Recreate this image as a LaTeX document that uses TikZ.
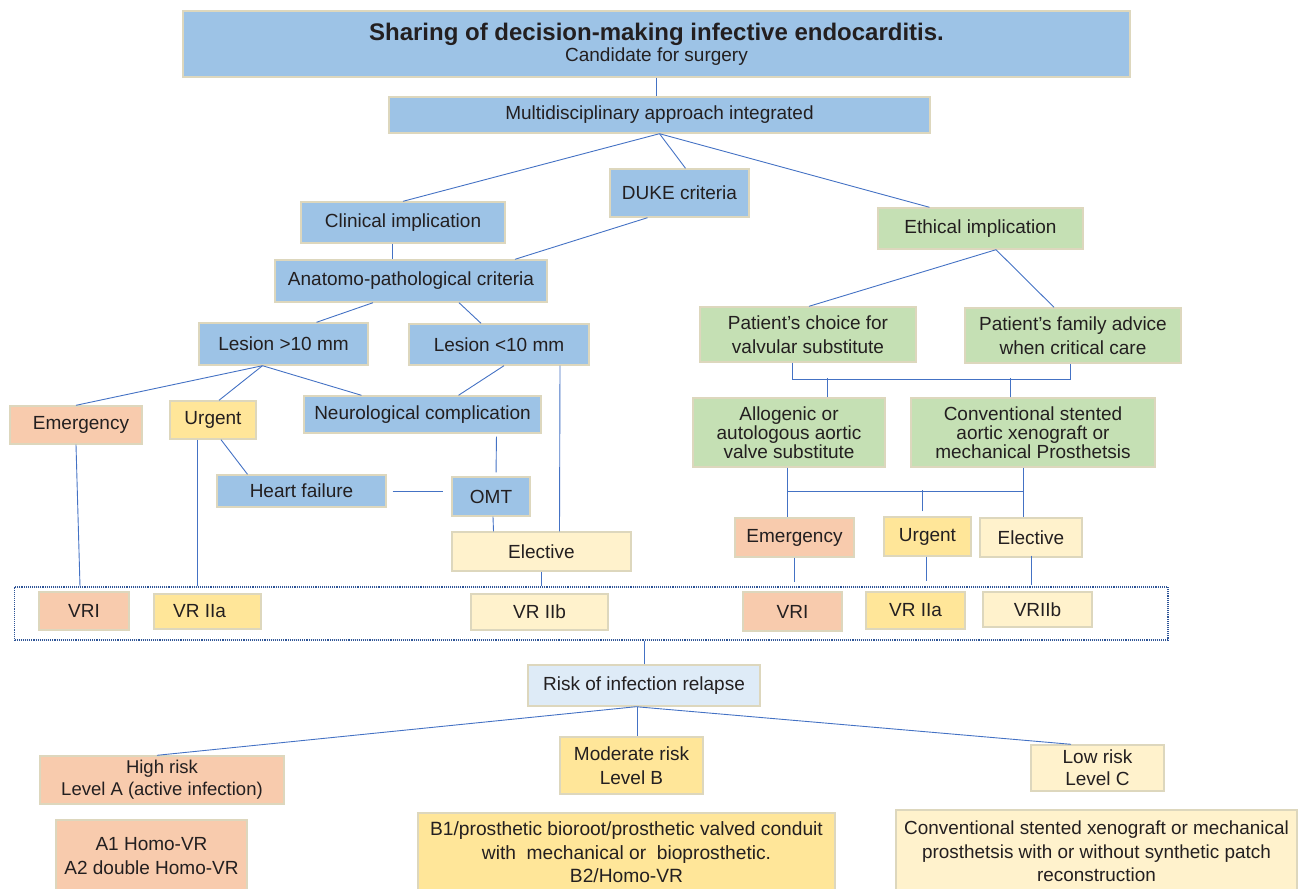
\documentclass[tikz,border=0pt]{standalone}
\usepackage{fontspec}
\setmainfont{Liberation Sans}
\definecolor{cblue}{HTML}{9DC3E6}
\definecolor{cgreen}{HTML}{C5E0B4}
\definecolor{csalmon}{HTML}{F8CBAD}
\definecolor{cyellow}{HTML}{FFE699}
\definecolor{clyellow}{HTML}{FFF2CC}
\definecolor{crisk}{HTML}{DEEBF7}
\definecolor{cborder}{HTML}{DDD7BD}
\definecolor{cline}{HTML}{4472C4}
\definecolor{cdot}{HTML}{2F5597}
\definecolor{ctext}{HTML}{231F20}
\begin{document}
\begin{tikzpicture}[x=1pt,y=-1pt,
  bx/.style={draw=cborder, line width=1.4pt, inner sep=0pt, align=center, text=ctext,
    font=\fontsize{19}{22}\selectfont},
  ln/.style={draw=cline, line width=0.9pt}]
\useasboundingbox (0,0) rectangle (1299,889);
% ---- nodes ----
\node[bx,fill=cblue,minimum width=947,minimum height=66] (title) at (656.5,44)
  {{\fontsize{24}{26}\selectfont\bfseries Sharing of decision-making infective endocarditis.}\\[-1pt]Candidate for surgery};
\node[bx,fill=cblue,minimum width=541,minimum height=36] (multi) at (659.5,115) {Multidisciplinary approach integrated};
\node[bx,fill=cblue,minimum width=204,minimum height=41] (clin) at (403,222.5) {Clinical implication};
\node[bx,fill=cblue,minimum width=139,minimum height=48] (duke) at (679.5,193) {DUKE criteria};
\node[bx,fill=cgreen,minimum width=205,minimum height=41] (eth) at (980.5,228.5) {Ethical implication};
\node[bx,fill=cblue,minimum width=272,minimum height=42] (anat) at (411,281) {Anatomo-pathological criteria};
\node[bx,fill=cblue,minimum width=169,minimum height=42] (les1) at (283.5,344) {Lesion >10 mm};
\node[bx,fill=cblue,minimum width=180,minimum height=41] (les2) at (499,344.5) {Lesion <10 mm};
\node[bx,fill=csalmon,minimum width=132,minimum height=38] (emer1) at (76,425) {\hspace*{10pt}Emergency};
\node[bx,fill=cyellow,minimum width=86,minimum height=38] (urg1) at (213,420) {Urgent};
\node[bx,fill=cblue,minimum width=237,minimum height=37] (neuro) at (422.5,414.5) {Neurological complication};
\node[bx,fill=cblue,minimum width=169,minimum height=32] (heart) at (301.5,491) {Heart failure};
\node[bx,fill=cblue,minimum width=78,minimum height=39] (omt) at (491,496.5) {OMT};
\node[bx,fill=clyellow,minimum width=179,minimum height=39] (elec1) at (541.5,551.5) {Elective};
\node[bx,fill=cgreen,minimum width=216,minimum height=55,font=\fontsize{19}{24}\selectfont] (choice) at (808,334.5) {Patient’s choice for\\valvular substitute};
\node[bx,fill=cgreen,minimum width=216,minimum height=55,font=\fontsize{19}{24}\selectfont] (family) at (1073,335.5) {Patient’s family advice\\when critical care};
\node[bx,fill=cgreen,minimum width=192,minimum height=69,font=\fontsize{19}{19}\selectfont] (allo) at (789,432.5) {Allogenic or\\autologous aortic\\valve substitute};
\node[bx,fill=cgreen,minimum width=244,minimum height=69,font=\fontsize{19}{19}\selectfont] (conv) at (1033,432.5) {Conventional stented\\aortic xenograft or\\mechanical Prosthetsis};
\node[bx,fill=csalmon,minimum width=119,minimum height=39] (emer2) at (794.5,537.5) {Emergency};
\node[bx,fill=cyellow,minimum width=87,minimum height=39] (urg2) at (927.5,536.5) {Urgent};
\node[bx,fill=clyellow,minimum width=102,minimum height=39] (elec2) at (1031,537.5) {Elective};
\node[draw=cdot, densely dotted, line width=1.1pt, inner sep=0pt, minimum width=1153.5, minimum height=53] (vrgroup) at (591.25,613.5) {};
\node[bx,fill=csalmon,minimum width=90,minimum height=38] (vri1) at (84,611) {VRI};
\node[bx,fill=cyellow,minimum width=107,minimum height=35] (vr2a1) at (207.5,611.5) {VR IIa\hspace*{16pt}};
\node[bx,fill=clyellow,minimum width=137,minimum height=36] (vr2b1) at (539.5,612) {VR IIb};
\node[bx,fill=csalmon,minimum width=99,minimum height=39] (vri2) at (792.5,611.5) {VRI};
\node[bx,fill=cyellow,minimum width=99,minimum height=37] (vr2a2) at (915.5,610.5) {VR IIa};
\node[bx,fill=clyellow,minimum width=109,minimum height=35] (vr2b2) at (1037.5,609.5) {VRIIb};
\node[bx,fill=crisk,minimum width=232,minimum height=41] (risk) at (644,685.5) {Risk of infection relapse};
\node[bx,fill=csalmon,minimum width=244,minimum height=48,font=\fontsize{18.5}{22}\selectfont] (high) at (162,780) {High risk\\Level A (active infection)};
\node[bx,fill=cyellow,minimum width=143,minimum height=57,font=\fontsize{19}{24}\selectfont] (mod) at (631.5,765.5) {Moderate risk\\Level B};
\node[bx,fill=clyellow,minimum width=133,minimum height=46] (low) at (1097.5,768) {Low risk\\Level C};
\node[bx,fill=csalmon,minimum width=191,minimum height=72,font=\fontsize{19}{24}\selectfont] (a1) at (151.5,856) {A1 Homo-VR\\A2 double Homo-VR};
\node[bx,fill=cyellow,minimum width=417,minimum height=79,font=\fontsize{19.2}{23.5}\selectfont] (b1) at (626.5,852.5) {B1/prosthetic bioroot/prosthetic valved conduit\\with~ mechanical or~ bioprosthetic.\\B2/Homo-VR};
\node[bx,fill=clyellow,minimum width=401,minimum height=83,font=\fontsize{18.9}{23.5}\selectfont] (conv3) at (1096.5,851.5) {Conventional stented xenograft or mechanical\\prosthetsis with or without synthetic patch\\reconstruction};
% ---- connectors ----
\draw[ln] (title.south) -- (title.south |- multi.north);
\draw[ln] (multi.south) -- (clin.north);
\draw[ln] (multi.south) -- ([xshift=6]duke.north);
\draw[ln] (multi.south) -- ([xshift=-51]eth.north);
\draw[ln] ([xshift=-32]duke.south) -- ([xshift=104]anat.north);
\draw[ln] ([xshift=-11]clin.south) -- ([xshift=-19]anat.north);
\draw[ln] ([xshift=-38]anat.south) -- ([xshift=33]les1.north);
\draw[ln] ([xshift=48]anat.south) -- ([xshift=-18]les2.north);
\draw[ln] ([xshift=-21]les1.south) -- (emer1.north);
\draw[ln] ([xshift=-21]les1.south) -- ([xshift=6]urg1.north);
\draw[ln] ([xshift=-21]les1.south) -- ([xshift=-61]neuro.north);
\draw[ln] ([xshift=5]les2.south) -- ([xshift=36]neuro.north);
\draw[ln] ([xshift=61]les2.south) -- ([xshift=18]elec1.north);
\draw[ln, shorten <=3pt, shorten >=4pt] ([xshift=74]neuro.south) -- ([xshift=5]omt.north);
\draw[ln, shorten <=6pt, shorten >=8pt] (heart.east) -- (omt.west |- heart.east);
\draw[ln] ([xshift=8]urg1.south) -- ([xshift=-54]heart.north);
\draw[ln] ([xshift=2]omt.south) -- ([xshift=-48]elec1.north);
\draw[ln] (elec1.south) -- (elec1.south |- vrgroup.north);
\draw[ln] (emer1.south) -- ([xshift=-4]vri1.north |- vrgroup.north);
\coordinate (u1) at ([xshift=-16]urg1.south);
\draw[ln] (u1) -- (u1 |- vrgroup.north);
% right side
\draw[ln] ([xshift=15.5]eth.south) -- ([xshift=1]choice.north);
\draw[ln] ([xshift=15.5]eth.south) -- ([xshift=-19]family.north);
\draw[ln] ([xshift=-16]choice.south) -- ++(0,17) -| ([xshift=-3]family.south);
\draw[ln] ([xshift=38]allo.north) -- ++(0,-19);
\draw[ln] ([xshift=-23]conv.north) -- ++(0,-19);
\draw[ln] ([xshift=-2]allo.south) -- ([xshift=-7.5]emer2.north);
\draw[ln] ([xshift=-10]conv.south) -- ([xshift=-8]elec2.north);
\draw[ln] ([xshift=-2]allo.south) ++(0,24) -- ++(236,0);
\draw[ln] ([xshift=-5.5]urg2.north) ++(0,-5) -- ++(0,-21);
\coordinate (e2) at (emer2.south);
\draw[ln] (e2) -- ([yshift=4]e2 |- vrgroup.north);
\coordinate (g2) at ([xshift=-1.5]urg2.south);
\draw[ln] (g2) -- ([yshift=5]g2 |- vrgroup.north);
\coordinate (l2) at (elec2.south);
\draw[ln] ([yshift=2]l2) -- ([yshift=1]l2 |- vrgroup.north);
% risk
\draw[ln] (risk.north) -- (risk.north |- vrgroup.south);
\draw[ln] ([xshift=-8]risk.south) -- ([xshift=-5]high.north);
\draw[ln] ([xshift=-7]risk.south) -- ([xshift=5.5]mod.north);
\draw[ln] ([xshift=-8]risk.south) -- ([xshift=-26.5]low.north);
\end{tikzpicture}
\end{document}
